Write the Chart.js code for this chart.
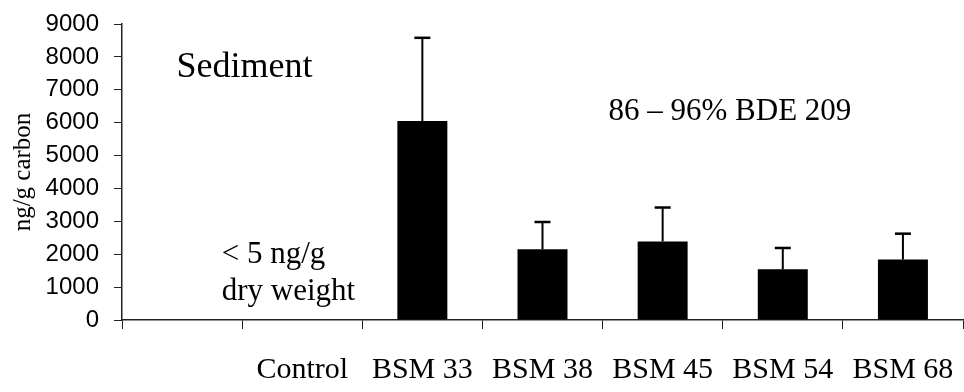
<!DOCTYPE html>
<html>
<head>
<meta charset="utf-8">
<script src="https://cdn.jsdelivr.net/npm/chart.js@4/dist/chart.umd.min.js"></script>
<style>
  html, body { margin: 0; padding: 0; background: #fff; }
  #wrap { width: 964px; height: 392px; position: relative; }
</style>
</head>
<body>
<div id="wrap"><canvas id="c" width="964" height="392"></canvas></div>
<script>
// Sites along the x axis (first slot is left blank)
const sites = ['', 'Control', 'BSM 33', 'BSM 38', 'BSM 45', 'BSM 54', 'BSM 68'];
// Mean PBDE concentration, ng/g carbon (no bar for the control)
const meanConc = [null, null, 6050, 2150, 2390, 1540, 1840];
// Upper error (standard deviation), ng/g carbon
const stdDev = [null, null, 2530, 830, 1030, 650, 785];
// Value-axis ticks
const yTicks = [0, 1000, 2000, 3000, 4000, 5000, 6000, 7000, 8000, 9000];

const SERIF = '"Liberation Serif", "Times New Roman", serif';
const SANS = '"Liberation Sans", Arial, sans-serif';

// Text notes placed in axis units (category index, value)
const notes = [
  { lines: ['Sediment'], at: [0.52, 7390], size: 36, align: 'center', gap: 0 },
  { lines: ['86 \u2013 96% BDE 209'], at: [4.56, 6080], size: 31, align: 'center', gap: 0 },
  { lines: ['< 5 ng/g', 'dry weight'], at: [0.33, 1720], size: 31, align: 'left', gap: 37 }
];

function xAt(scale, idx) {
  const a = scale.getPixelForValue(0);
  const b = scale.getPixelForValue(1);
  return a + (b - a) * idx;
}

const errorBars = {
  id: 'errorBars',
  afterDatasetsDraw(chart) {
    const { ctx } = chart;
    const meta = chart.getDatasetMeta(0);
    const y = chart.scales.y;
    ctx.save();
    ctx.strokeStyle = '#000';
    meta.data.forEach((bar, i) => {
      if (meanConc[i] == null || stdDev[i] == null) return;
      const top = y.getPixelForValue(meanConc[i] + stdDev[i]);
      const base = y.getPixelForValue(meanConc[i]);
      ctx.lineWidth = 2;
      ctx.beginPath();
      ctx.moveTo(bar.x, base);
      ctx.lineTo(bar.x, top);
      ctx.stroke();
      ctx.lineWidth = 2.5;
      ctx.beginPath();
      ctx.moveTo(bar.x - 8, top);
      ctx.lineTo(bar.x + 8, top);
      ctx.stroke();
    });
    ctx.restore();
  }
};

const textNotes = {
  id: 'textNotes',
  afterDraw(chart) {
    const { ctx } = chart;
    const xs = chart.scales.x, ys = chart.scales.y;
    ctx.save();
    ctx.fillStyle = '#000';
    ctx.textBaseline = 'alphabetic';
    notes.forEach(n => {
      ctx.font = n.size + 'px ' + SERIF;
      ctx.textAlign = n.align;
      const px = xAt(xs, n.at[0]);
      const py = ys.getPixelForValue(n.at[1]);
      n.lines.forEach((t, k) => ctx.fillText(t, px, py + k * n.gap));
    });
    ctx.restore();
  }
};

new Chart(document.getElementById('c'), {
  type: 'bar',
  data: {
    labels: sites,
    datasets: [{
      data: meanConc,
      backgroundColor: '#000',
      borderColor: '#000',
      borderWidth: 0,
      barPercentage: 0.416,
      categoryPercentage: 1.0
    }]
  },
  options: {
    responsive: false,
    animation: false,
    devicePixelRatio: 1,
    layout: { padding: { top: 2, right: 1, left: 0, bottom: 0 } },
    plugins: { legend: { display: false }, tooltip: { enabled: false } },
    scales: {
      x: {
        grid: { offset: true, drawOnChartArea: false, drawTicks: true, tickLength: 9, color: '#222', lineWidth: 1 },
        border: { display: true, color: '#222', width: 1.5 },
        // tall line height pushes the labels down without widening the axis
        ticks: { color: '#000', font: { family: SERIF, size: 30, lineHeight: 2.75 }, padding: 0, maxRotation: 0, autoSkip: false },
        afterFit(s) { s.height = 72; }
      },
      y: {
        min: 0, max: 9000,
        afterBuildTicks(s) { s.ticks = yTicks.map(v => ({ value: v })); },
        grid: { drawOnChartArea: false, drawTicks: true, tickLength: 8, color: '#222', lineWidth: 1 },
        border: { display: true, color: '#222', width: 1.5 },
        ticks: { color: '#000', font: { family: SANS, size: 24 }, padding: 15, callback: v => String(v) },
        title: { display: true, text: 'ng/g carbon', color: '#000', font: { family: SERIF, size: 25 }, padding: { top: 8, bottom: 0 } },
        afterFit(s) {
          s.width = 122;
          // only the half-height of the top label needs room above the plot
          s.paddingTop = 24;
          s.paddingBottom = 0;
        }
      }
    }
  },
  plugins: [errorBars, textNotes]
});
</script>
</body>
</html>
